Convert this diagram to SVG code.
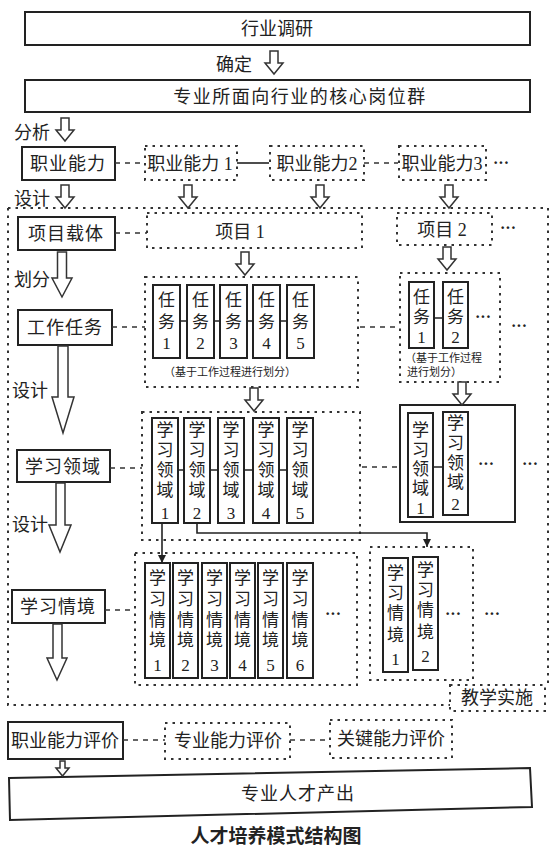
<svg xmlns="http://www.w3.org/2000/svg" xmlns:xlink="http://www.w3.org/1999/xlink" width="554" height="857" viewBox="0 0 554 857">
<style>
.box{fill:#fff;stroke:#222;stroke-width:2}
.dot{fill:none;stroke:#333;stroke-width:2;stroke-dasharray:2.5 5}
.dash{fill:none;stroke:#333;stroke-width:1.6;stroke-dasharray:5 5}
.solid{fill:none;stroke:#222;stroke-width:1.6}
.cell{fill:#fff;stroke:#222;stroke-width:2}
.harrow{fill:#fff;stroke:#333;stroke-width:1.5}
text{font-family:"Liberation Serif","Noto Sans CJK SC",serif;fill:#222}
.lbl{font-size:18px;text-anchor:middle}
.c{font-size:17px;text-anchor:middle}
.cap{font-size:11px}
.ell{font-size:16px;font-weight:bold;text-anchor:middle}
</style>
<defs>
<path id="ha" class="harrow" d="M -4 0 H 4 V 12 H 9 L 0 23 L -9 12 H -4 Z"/>
<marker id="ah" viewBox="0 0 10 10" refX="10" refY="5" markerWidth="8" markerHeight="8" markerUnits="userSpaceOnUse" orient="auto"><path d="M0,0 L10,5 L0,10 z" fill="#222"/></marker>
</defs>
<rect width="554" height="857" fill="#fff"/>

<g id="hyyy"><rect class="box" x="25" y="12" width="505" height="33"/><text class="lbl" x="277" y="35">行业调研</text></g>
<g id="gwq"><rect class="box" x="25" y="80" width="505" height="32"/><text class="lbl" x="300" y="103" letter-spacing="1.5">专业所面向行业的核心岗位群</text></g>
<g id="zynl"><rect class="box" x="22" y="147" width="93" height="33"/><text class="lbl" x="68" y="170" letter-spacing="1">职业能力</text></g>
<g id="zynl1"><rect class="dot" x="145" y="146" width="92" height="34"/><text class="lbl" x="190" y="170">职业能力 1</text></g>
<g id="zynl2"><rect class="dot" x="270" y="146" width="94" height="34"/><text class="lbl" x="317" y="170">职业能力2</text></g>
<g id="zynl3"><rect class="dot" x="399" y="146" width="87" height="34"/><text class="lbl" x="442" y="170">职业能力3</text></g>
<g id="outer"><path class="dot" d="M 8 208 H 548 V 685 M 8 208 V 705 H 450"/></g>
<g id="jxss"><rect class="dot" x="450" y="685" width="95" height="26"/><text class="lbl" x="497" y="704" font-size="17">教学实施</text></g>
<g id="xmzt"><rect class="box" x="18" y="217" width="97" height="33"/><text class="lbl" x="66" y="240" letter-spacing="1">项目载体</text></g>
<g id="xm1"><rect class="dot" x="147" y="213" width="215" height="35"/><text class="lbl" x="240" y="238">项目 1</text></g>
<g id="xm2"><rect class="dot" x="397" y="213" width="95" height="32"/><text class="lbl" x="442" y="236">项目 2</text></g>
<g id="gzrw"><rect class="box" x="18" y="310" width="94" height="35"/><text class="lbl" x="65" y="334" letter-spacing="1">工作任务</text></g>
<g id="rwbox1"><rect class="dot" x="145" y="277" width="213" height="110"/>
<text class="cap" x="230" y="376" text-anchor="middle">（基于工作过程进行划分）</text></g>
<g id="rw1-1"><rect class="cell" x="153" y="285" width="27" height="73"/><text class="c" x="166.5" y="306">任</text><text class="c" x="166.5" y="328">务</text><text class="c" x="166.5" y="349">1</text></g>
<g id="rw1-2"><rect class="cell" x="187" y="285" width="27" height="73"/><text class="c" x="200.5" y="306">任</text><text class="c" x="200.5" y="328">务</text><text class="c" x="200.5" y="349">2</text></g>
<g id="rw1-3"><rect class="cell" x="220" y="285" width="27" height="73"/><text class="c" x="233.5" y="306">任</text><text class="c" x="233.5" y="328">务</text><text class="c" x="233.5" y="349">3</text></g>
<g id="rw1-4"><rect class="cell" x="253" y="285" width="27" height="73"/><text class="c" x="266.5" y="306">任</text><text class="c" x="266.5" y="328">务</text><text class="c" x="266.5" y="349">4</text></g>
<g id="rw1-5"><rect class="cell" x="287" y="285" width="27" height="73"/><text class="c" x="300.5" y="306">任</text><text class="c" x="300.5" y="328">务</text><text class="c" x="300.5" y="349">5</text></g>
<g id="rwbox2"><rect class="dot" x="400" y="273" width="100" height="109"/>
<text class="cap" x="405" y="362">（基于工作过程</text><text class="cap" x="407" y="376">进行划分）</text></g>
<g id="rw2-1"><rect class="cell" x="409" y="282" width="25" height="66"/><text class="c" x="421.5" y="303">任</text><text class="c" x="421.5" y="323">务</text><text class="c" x="421.5" y="343">1</text></g>
<g id="rw2-2"><rect class="cell" x="443" y="282" width="25" height="66"/><text class="c" x="455.5" y="303">任</text><text class="c" x="455.5" y="323">务</text><text class="c" x="455.5" y="343">2</text></g>
<g id="xxly"><rect class="box" x="17" y="450" width="93" height="32"/><text class="lbl" x="63" y="473" letter-spacing="1">学习领域</text></g>
<g id="lybox1"><rect class="dot" x="142" y="412" width="218" height="128"/></g>
<g id="ly1-1"><rect class="cell" x="152" y="418" width="26" height="105"/><text class="c" x="165" y="436">学</text><text class="c" x="165" y="456">习</text><text class="c" x="165" y="476">领</text><text class="c" x="165" y="496">域</text><text class="c" x="165" y="519">1</text></g>
<g id="ly1-2"><rect class="cell" x="184" y="418" width="26" height="105"/><text class="c" x="197" y="436">学</text><text class="c" x="197" y="456">习</text><text class="c" x="197" y="476">领</text><text class="c" x="197" y="496">域</text><text class="c" x="197" y="519">2</text></g>
<g id="ly1-3"><rect class="cell" x="218" y="418" width="26" height="105"/><text class="c" x="231" y="436">学</text><text class="c" x="231" y="456">习</text><text class="c" x="231" y="476">领</text><text class="c" x="231" y="496">域</text><text class="c" x="231" y="519">3</text></g>
<g id="ly1-4"><rect class="cell" x="253" y="418" width="26" height="105"/><text class="c" x="266" y="436">学</text><text class="c" x="266" y="456">习</text><text class="c" x="266" y="476">领</text><text class="c" x="266" y="496">域</text><text class="c" x="266" y="519">4</text></g>
<g id="ly1-5"><rect class="cell" x="287" y="418" width="26" height="105"/><text class="c" x="300" y="436">学</text><text class="c" x="300" y="456">习</text><text class="c" x="300" y="476">领</text><text class="c" x="300" y="496">域</text><text class="c" x="300" y="519">5</text></g>
<g id="lybox2"><rect class="box" x="400" y="405" width="115" height="117"/></g>
<g id="ly2-1"><rect class="cell" x="408" y="413" width="25" height="104"/><text class="c" x="420.5" y="436">学</text><text class="c" x="420.5" y="456">习</text><text class="c" x="420.5" y="475">领</text><text class="c" x="420.5" y="494">域</text><text class="c" x="420.5" y="514">1</text></g>
<g id="ly2-2"><rect class="cell" x="443" y="412" width="25" height="103"/><text class="c" x="455.5" y="429">学</text><text class="c" x="455.5" y="449">习</text><text class="c" x="455.5" y="469">领</text><text class="c" x="455.5" y="488">域</text><text class="c" x="455.5" y="510">2</text></g>
<g id="xxqj"><rect class="box" x="12" y="590" width="93" height="33"/><text class="lbl" x="58" y="613" letter-spacing="1">学习情境</text></g>
<g id="qjbox1"><rect class="dot" x="135" y="553" width="222" height="132"/></g>
<g id="qj1-1"><rect class="cell" x="145" y="563" width="25" height="115"/><text class="c" x="157.5" y="584">学</text><text class="c" x="157.5" y="605">习</text><text class="c" x="157.5" y="626">情</text><text class="c" x="157.5" y="646">境</text><text class="c" x="157.5" y="671">1</text></g>
<g id="qj1-2"><rect class="cell" x="173" y="563" width="25" height="115"/><text class="c" x="185.5" y="584">学</text><text class="c" x="185.5" y="605">习</text><text class="c" x="185.5" y="626">情</text><text class="c" x="185.5" y="646">境</text><text class="c" x="185.5" y="671">2</text></g>
<g id="qj1-3"><rect class="cell" x="202" y="563" width="25" height="115"/><text class="c" x="214.5" y="584">学</text><text class="c" x="214.5" y="605">习</text><text class="c" x="214.5" y="626">情</text><text class="c" x="214.5" y="646">境</text><text class="c" x="214.5" y="671">3</text></g>
<g id="qj1-4"><rect class="cell" x="230" y="563" width="25" height="115"/><text class="c" x="242.5" y="584">学</text><text class="c" x="242.5" y="605">习</text><text class="c" x="242.5" y="626">情</text><text class="c" x="242.5" y="646">境</text><text class="c" x="242.5" y="671">4</text></g>
<g id="qj1-5"><rect class="cell" x="258" y="563" width="25" height="115"/><text class="c" x="270.5" y="584">学</text><text class="c" x="270.5" y="605">习</text><text class="c" x="270.5" y="626">情</text><text class="c" x="270.5" y="646">境</text><text class="c" x="270.5" y="671">5</text></g>
<g id="qj1-6"><rect class="cell" x="287" y="563" width="26" height="115"/><text class="c" x="300" y="584">学</text><text class="c" x="300" y="605">习</text><text class="c" x="300" y="626">情</text><text class="c" x="300" y="646">境</text><text class="c" x="300" y="671">6</text></g>
<g id="qjbox2"><rect class="dot" x="370" y="547" width="103" height="133"/></g>
<g id="qj2-1"><rect class="cell" x="383" y="558" width="25" height="114"/><text class="c" x="395.5" y="579">学</text><text class="c" x="395.5" y="599">习</text><text class="c" x="395.5" y="619">情</text><text class="c" x="395.5" y="641">境</text><text class="c" x="395.5" y="665">1</text></g>
<g id="qj2-2"><rect class="cell" x="413" y="557" width="25" height="113"/><text class="c" x="425.5" y="576">学</text><text class="c" x="425.5" y="596">习</text><text class="c" x="425.5" y="616">情</text><text class="c" x="425.5" y="638">境</text><text class="c" x="425.5" y="662">2</text></g>
<g id="zynlpj"><rect class="box" x="8" y="722" width="115" height="37"/><text class="lbl" x="65" y="747" font-size="17">职业能力评价</text></g>
<g id="zyzypj"><rect class="dot" x="165" y="723" width="125" height="36"/><text class="lbl" x="228" y="747" font-size="17">专业能力评价</text></g>
<g id="gjnlpj"><rect class="dot" x="330" y="720" width="122" height="38"/><text class="lbl" x="391" y="745" font-size="17">关键能力评价</text></g>
<g id="output"><path class="box" d="M 9 778 L 530 768 L 532 807 L 10 820 Z"/><text class="lbl" x="298" y="800" letter-spacing="1">专业人才产出</text></g>
<g id="title"><text x="276" y="843" font-size="19" font-weight="bold" text-anchor="middle">人才培养模式结构图</text></g>

<g id="labels">
<text class="lbl" x="234" y="71">确定</text>
<text class="lbl" x="32" y="139">分析</text>
<text class="lbl" x="32" y="205">设计</text>
<text class="lbl" x="32" y="286" font-size="16">划分</text>
<text class="lbl" x="30" y="397" font-size="16">设计</text>
<text class="lbl" x="30" y="531" font-size="16">设计</text>
<text class="ell" x="501" y="168">···</text>
<text class="ell" x="508" y="233">···</text>
<text class="ell" x="483" y="322">···</text>
<text class="ell" x="519" y="331">···</text>
<text class="ell" x="486" y="469">···</text>
<text class="ell" x="530" y="469">···</text>
<text class="ell" x="333" y="619">···</text>
<text class="ell" x="453" y="619">···</text>
<text class="ell" x="492" y="619">···</text>
</g>

<g id="connectors">
<use href="#ha" x="274" y="51"/>
<use href="#ha" x="65" y="118"/>
<use href="#ha" x="65" y="185"/>
<use href="#ha" x="188" y="185"/>
<use href="#ha" x="320" y="185"/>
<use href="#ha" x="449" y="185"/>
<use href="#ha" x="245" y="252"/>
<use href="#ha" x="447" y="247"/>
<use href="#ha" x="254" y="388"/>
<use href="#ha" x="462" y="382"/>
<path class="harrow" d="M 57.5 252 H 66.5 V 278 H 72 L 62 297 L 52 278 H 57.5 Z"/>
<path class="harrow" d="M 58 346 H 68 V 397 H 74 L 63 433 L 52 397 H 58 Z"/>
<path class="harrow" d="M 56 483 H 65 V 525 H 71 L 60 552 L 49 525 H 56 Z"/>
<path class="harrow" d="M 53 624 H 62 V 658 H 67 L 57 680 L 47 658 H 53 Z"/>
<path class="harrow" d="M 60 761 H 65 V 768 H 69 L 62.5 776 L 56 768 H 60 Z"/>
<path class="dash" d="M 115 163 H 145"/>
<path class="solid" d="M 237 163 H 269"/>
<path class="dash" d="M 364 163 H 398"/>
<path class="dash" d="M 115 233 H 147"/>
<path class="dash" d="M 112 327 H 145"/>
<path class="dash" d="M 360 327 H 399"/>
<path class="dash" d="M 110 468 H 142"/>
<path class="dash" d="M 362 467 H 399"/>
<path class="dash" d="M 105 610 H 135"/>
<path class="dash" d="M 123 740 H 165"/>
<path class="dash" d="M 290 740 H 330"/>
<path class="solid" stroke-width="2.5" d="M 180 321 H 187 M 214 321 H 220 M 247 321 H 253 M 280 321 H 287 M 434 318 H 443"/>
<path class="solid" stroke-width="2.5" d="M 178 470 H 184 M 210 470 H 218 M 244 470 H 253 M 279 470 H 287 M 433 467 H 443"/>
<path class="solid" marker-end="url(#ah)" d="M 162 523 V 563"/>
<path class="solid" marker-end="url(#ah)" d="M 197 523 V 533 H 427 V 547"/>
</g>
</svg>
